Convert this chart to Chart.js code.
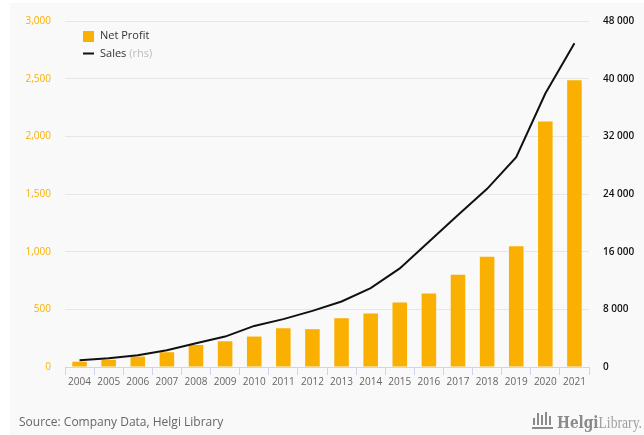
<!DOCTYPE html>
<html>
<head>
<meta charset="utf-8">
<script src="https://cdn.jsdelivr.net/npm/chart.js@4.4.0/dist/chart.umd.min.js"></script>
<style>
  html, body { margin: 0; padding: 0; background: #ffffff; }
  #wrap { position: relative; width: 644px; height: 435px; }
</style>
</head>
<body>
<div id="wrap"><canvas id="myChart" width="644" height="435"></canvas></div>
<script>
const years = ['2004', '2005', '2006', '2007', '2008', '2009', '2010', '2011', '2012',
    '2013', '2014', '2015', '2016', '2017', '2018', '2019', '2020', '2021'];
const netProfit = [46, 62, 90, 128, 191, 223, 264, 336, 328, 423, 464, 559, 638, 800, 956, 1046, 2128, 2487];
const sales = [930, 1210, 1630, 2320, 3290, 4220, 5700, 6640, 7790, 9090, 10950, 13680, 17390, 21100, 24720, 29120, 37940, 44900];
const profitTicks = [0, 500, 1000, 1500, 2000, 2500, 3000];
const salesTicks = [0, 8000, 16000, 24000, 32000, 40000, 48000];

const ORANGE = '#f9b000';
const FONT = "'Open Sans', 'Noto Sans', sans-serif";

// grey panel, legend, source note and logo
const decorPlugin = {
    id: 'decor',
    beforeDraw(chart) {
        const ctx = chart.ctx;
        ctx.save();
        ctx.fillStyle = '#f9f9f9';
        ctx.fillRect(10, 3, 634, 432);
        ctx.restore();
    },
    afterDraw(chart) {
        const ctx = chart.ctx;
        ctx.save();
        // legend
        ctx.fillStyle = ORANGE;
        ctx.fillRect(83, 31, 11, 11);
        ctx.strokeStyle = '#111';
        ctx.lineWidth = 2;
        ctx.beginPath();
        ctx.moveTo(83, 53.5);
        ctx.lineTo(94, 53.5);
        ctx.stroke();
        ctx.font = '11px ' + FONT;
        ctx.textBaseline = 'middle';
        ctx.textAlign = 'left';
        ctx.fillStyle = '#333';
        ctx.fillText('Net Profit', 100, 36);
        ctx.fillText('Sales', 100, 54);
        const w = ctx.measureText('Sales ').width;
        ctx.fillStyle = '#bbbbbb';
        ctx.fillText('(rhs)', 100 + w, 54);

        // source
        ctx.font = '12px ' + FONT;
        ctx.fillStyle = '#666';
        ctx.fillText('Source: Company Data, Helgi Library', 19, 423);

        // logo
        ctx.fillStyle = '#8a8a8a';
        const bars = [[533, 418, 7], [537, 413, 12], [541, 415, 10], [545, 412, 13], [549, 416, 9]];
        bars.forEach(b => ctx.fillRect(b[0], b[1], 2, b[2]));
        ctx.fillRect(532, 427, 21, 2);
        const boldFont = "bold 16px 'DejaVu Serif', serif";
        const lightFont = "16px 'Liberation Serif', serif";
        ctx.font = boldFont;
        const hw = ctx.measureText('Helgi').width;
        ctx.font = lightFont;
        const lw = ctx.measureText('Library.').width;
        const sx = 85 / (hw + lw);
        ctx.translate(557, 424);
        ctx.scale(sx, 1);
        ctx.font = boldFont;
        ctx.fillText('Helgi', 0, 0);
        ctx.font = lightFont;
        ctx.fillStyle = '#a0a0a0';
        ctx.fillText('Library.', hw, 0);
        ctx.restore();
    }
};

const config = {
    type: 'bar',
    data: {
        labels: years,
        datasets: [{
            type: 'line',
            label: 'Sales',
            data: sales,
            yAxisID: 'y1',
            borderColor: '#111111',
            borderWidth: 2,
            pointRadius: 0,
            tension: 0,
            order: 0
        }, {
            label: 'Net Profit',
            data: netProfit,
            yAxisID: 'y',
            backgroundColor: ORANGE,
            barPercentage: 0.5,
            categoryPercentage: 1,
            order: 1
        }]
    },
    options: {
        responsive: false,
        animation: false,
        layout: {
            padding: { top: 21, bottom: 37, left: 0, right: 0 }
        },
        scales: {
            x: {
                grid: {
                    drawOnChartArea: false,
                    drawTicks: true,
                    tickLength: 8,
                    color: '#ccd6eb'
                },
                border: { color: '#ccd6eb' },
                ticks: {
                    color: '#666',
                    font: { family: FONT, size: 10 },
                    padding: 1,
                    maxRotation: 0,
                    autoSkip: false
                },
                afterFit(scale) { scale.height = 31; }
            },
            y: {
                position: 'left',
                min: 0,
                max: 3000,
                afterBuildTicks(scale) { scale.ticks = profitTicks.map(v => ({ value: v })); },
                grid: { color: '#e6e6e6', drawTicks: false },
                border: { display: false },
                ticks: {
                    color: ORANGE,
                    padding: 14,
                    font: { family: FONT, size: 10 },
                    callback: v => v.toLocaleString('en-US')
                },
                afterFit(scale) { scale.width = 65; }
            },
            y1: {
                position: 'right',
                min: 0,
                max: 48000,
                afterBuildTicks(scale) { scale.ticks = salesTicks.map(v => ({ value: v })); },
                grid: { display: false, drawTicks: false },
                border: { display: false },
                ticks: {
                    color: '#111',
                    padding: 14,
                    font: { family: FONT, size: 10, weight: '600' },
                    callback: v => v.toLocaleString('en-US').replace(/,/g, ' ')
                },
                afterFit(scale) { scale.width = 55; }
            }
        },
        plugins: {
            legend: { display: false },
            tooltip: { enabled: false }
        }
    },
    plugins: [decorPlugin]
};

const myChart = document.getElementById('myChart');
const chart = new Chart(myChart, config);
</script>
</body>
</html>
